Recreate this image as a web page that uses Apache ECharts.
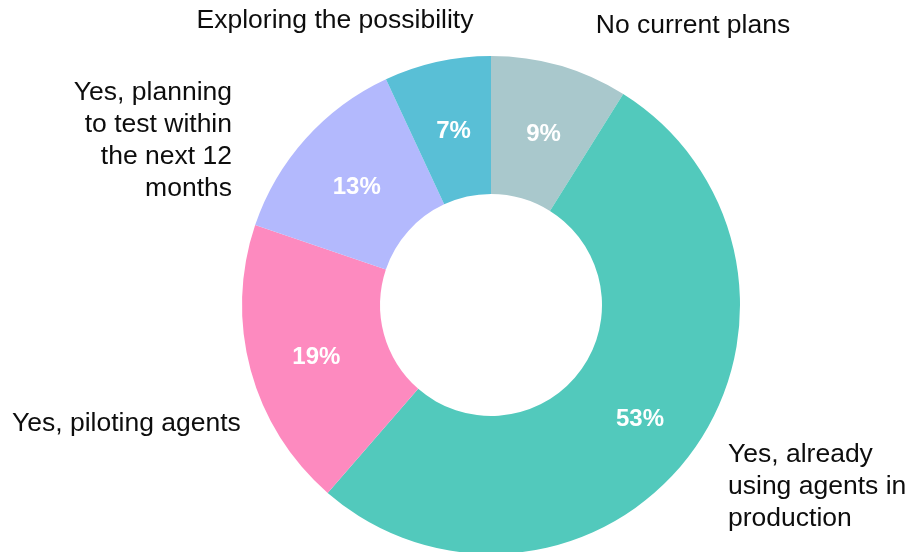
<!DOCTYPE html>
<html>
<head>
<meta charset="utf-8">
<script src="https://cdn.jsdelivr.net/npm/echarts@6/dist/echarts.min.js"></script>
<style>
  html, body { margin: 0; padding: 0; background: #ffffff; }
  #chart { width: 913px; height: 552px; }
</style>
</head>
<body>
<div id="chart"></div>
<script>
// Survey answers, clockwise from 12 o'clock
const categories = [
  'No current plans',
  'Yes, already\nusing agents in\nproduction',
  'Yes, piloting agents',
  'Yes, planning\nto test within\nthe next 12\nmonths',
  'Exploring the possibility'
];
const shares = [9, 53, 19, 13, 7];
const sliceColors = ['#a9c8cc', '#52c9bc', '#fd8abf', '#b3b9fd', '#59bfd6'];

// Where each category caption sits around the ring: [x, y, align]
const captionSpots = [
  [693, 26, 'center'],
  [728, 487, 'left'],
  [12, 424, 'left'],
  [232, 141, 'right'],
  [335, 21, 'center']
];

const FONT = '"Liberation Sans", Arial, Helvetica, sans-serif';
const center = [491, 305];
const radius = [111, 249];

const data = categories.map((name, i) => ({
  name: name,
  value: shares[i],
  itemStyle: { color: sliceColors[i] }
}));

const chart = echarts.init(document.getElementById('chart'), null, { renderer: 'canvas' });
chart.setOption({
  animation: false,
  backgroundColor: '#ffffff',
  series: [
    {
      // coloured ring with percentages inside
      type: 'pie',
      center: center,
      radius: radius,
      startAngle: 90,
      clockwise: true,
      avoidLabelOverlap: false,
      silent: true,
      itemStyle: { borderWidth: 0 },
      label: {
        show: true,
        position: 'inside',
        formatter: p => p.value + '%',
        color: '#ffffff',
        fontFamily: FONT,
        fontWeight: 'bold',
        fontSize: 24,
        offset: [2, 5]
      },
      labelLine: { show: false },
      data: data
    },
    {
      // transparent copy carrying the category captions
      type: 'pie',
      center: center,
      radius: radius,
      startAngle: 90,
      clockwise: true,
      avoidLabelOverlap: false,
      silent: true,
      itemStyle: { color: 'rgba(0,0,0,0)', borderWidth: 0 },
      label: {
        show: true,
        position: 'outside',
        formatter: '{b}',
        color: '#0d0d0d',
        fontFamily: FONT,
        fontSize: 26.5,
        lineHeight: 32
      },
      labelLine: { show: false },
      labelLayout: function (params) {
        const s = captionSpots[params.dataIndex];
        return { x: s[0], y: s[1], align: s[2], verticalAlign: 'middle', hideOverlap: false };
      },
      data: categories.map((name, i) => ({ name: name, value: shares[i] }))
    }
  ]
});
</script>
</body>
</html>
